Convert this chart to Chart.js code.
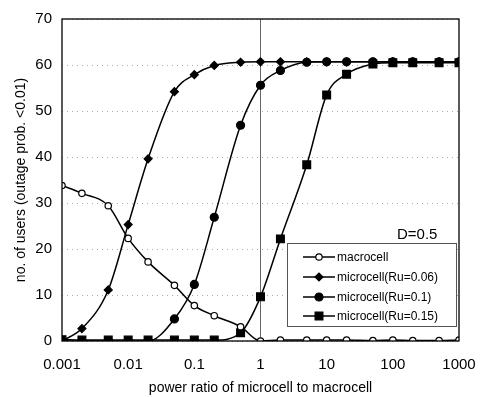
<!DOCTYPE html>
<html>
<head>
<meta charset="utf-8">
<script src="https://cdn.jsdelivr.net/npm/chart.js@4"></script>
<style>
  html, body { margin: 0; padding: 0; background: #fff; }
  #wrap { width: 484px; height: 397px; }
</style>
</head>
<body>
<div id="wrap"><canvas id="myChart" width="484" height="397"></canvas></div>
<script>
// 横軸 (power ratio)
const ratios = [0.001, 0.002, 0.005, 0.01, 0.02, 0.05, 0.1, 0.2, 0.5, 1, 2, 5, 10, 20, 50, 100, 200, 500, 1000];
const xTicks = [0.001, 0.01, 0.1, 1, 10, 100, 1000];
const xTickLabels = ['0.001', '0.01', '0.1', '1', '10', '100', '1000'];

// 各系列
const seriesNames = ['macrocell', 'microcell(Ru=0.06)', 'microcell(Ru=0.1)', 'microcell(Ru=0.15)'];
const macro   = [33.8, 32.1, 29.4, 22.3, 17.2, 12.1, 7.7, 5.5, 3.1, 0, 0.2, 0.2, 0.2, 0.2, 0.1, 0.2, 0.1, 0.1, 0.2];
const ru006   = [0, 2.7, 11.1, 25.3, 39.6, 54.2, 57.9, 59.9, 60.6, 60.7, 60.7, 60.7, 60.7, 60.7, 60.7, 60.7, 60.7, 60.7, 60.7];
const ru01    = [0, 0, 0, 0, 0, 4.8, 12.3, 26.9, 46.9, 55.6, 58.8, 60.6, 60.7, 60.7, 60.7, 60.7, 60.7, 60.7, 60.7];
const ru015   = [0.3, 0.2, 0.2, 0.2, 0.2, 0.2, 0.2, 0.2, 1.8, 9.6, 22.2, 38.3, 53.5, 58.0, 60.2, 60.5, 60.5, 60.5, 60.5];

const yTicks = [0, 10, 20, 30, 40, 50, 60, 70];

const toPts = arr => ratios.map((r, i) => ({x: r, y: arr[i]}));

const styles = [
    {pointStyle: 'circle', radius: 3.2, bg: '#fff'},
    {pointStyle: 'rectRot', radius: 4, bg: '#000'},
    {pointStyle: 'circle', radius: 4, bg: '#000'},
    {pointStyle: 'rect', radius: 5.5, bg: '#000'}
];
const allData = [macro, ru006, ru01, ru015];

const datasets = allData.map((d, i) => ({
    label: seriesNames[i],
    data: toPts(d),
    borderColor: '#000',
    borderWidth: 1.5,
    backgroundColor: styles[i].bg,
    pointStyle: styles[i].pointStyle,
    pointRadius: styles[i].radius,
    pointBorderColor: '#000',
    pointBorderWidth: 1.2,
    pointBackgroundColor: styles[i].bg,
    cubicInterpolationMode: 'monotone',
    fill: false
}));

// 枠・凡例・D=0.5 を描く
const extras = {
    id: 'extras',
    afterDraw(chart) {
        const ctx = chart.ctx;
        const a = chart.chartArea;
        ctx.save();
        ctx.strokeStyle = '#000';
        ctx.lineWidth = 1.3;
        ctx.strokeRect(a.left, a.top, a.right - a.left, a.bottom - a.top);

        // D=0.5
        ctx.fillStyle = '#000';
        ctx.font = '15px "Liberation Sans", Arial, sans-serif';
        ctx.textBaseline = 'middle';
        ctx.textAlign = 'left';
        ctx.fillText('D=0.5', 397, 235);

        // legend box
        const bx = 287, by = 243, bw = 169, bh = 83;
        ctx.fillStyle = '#fff';
        ctx.fillRect(bx, by, bw, bh);
        ctx.strokeStyle = '#555';
        ctx.lineWidth = 1;
        ctx.strokeRect(bx + 0.5, by + 0.5, bw, bh);

        const rows = [257, 277, 297, 316];
        ctx.font = '12px "Liberation Sans", Arial, sans-serif';
        chart.data.datasets.forEach((ds, i) => {
            const y = rows[i];
            ctx.strokeStyle = '#000';
            ctx.lineWidth = 1.5;
            ctx.beginPath();
            ctx.moveTo(303, y);
            ctx.lineTo(335, y);
            ctx.stroke();
            ctx.fillStyle = ds.pointBackgroundColor;
            ctx.lineWidth = 1.2;
            Chart.helpers.drawPoint(ctx, {pointStyle: ds.pointStyle, radius: ds.pointRadius, rotation: 0, borderWidth: 1.2}, 319, y);
            ctx.fillStyle = '#000';
            ctx.fillText(ds.label, 337, y + 1);
        });
        ctx.restore();
    }
};

window.onload = function() {
    const ctx = document.getElementById('myChart').getContext('2d');
    new Chart(ctx, {
        type: 'line',
        data: {datasets: datasets},
        options: {
            responsive: false,
            animation: false,
            layout: {padding: {left: 4, right: 25, top: 13, bottom: 0}},
            plugins: {
                legend: {display: false},
                tooltip: {enabled: false}
            },
            scales: {
                x: {
                    type: 'logarithmic',
                    min: 0.001,
                    max: 1000,
                    afterBuildTicks: s => { s.ticks = xTicks.map(v => ({value: v})); },
                    afterFit: s => { s.height = 56; s.paddingLeft = 0; s.paddingRight = 0; },
                    ticks: {
                        color: '#000',
                        font: {family: '"Liberation Sans", Arial, sans-serif', size: 15},
                        padding: 15,
                        maxRotation: 0,
                        autoSkip: false,
                        callback: (v) => {
                            const i = xTicks.findIndex(t => Math.abs(t - v) / t < 1e-6);
                            return i >= 0 ? xTickLabels[i] : '';
                        }
                    },
                    grid: {
                        drawTicks: false,
                        color: c => (c.tick && Math.abs(c.tick.value - 1) < 1e-9) ? '#666' : 'rgba(0,0,0,0)',
                        lineWidth: 1
                    },
                    border: {display: false},
                    title: {
                        display: true,
                        text: 'power ratio of microcell to macrocell',
                        color: '#000',
                        font: {family: '"Liberation Sans", Arial, sans-serif', size: 14},
                        padding: {top: 2, bottom: 0}
                    }
                },
                y: {
                    min: 0,
                    max: 70,
                    afterBuildTicks: s => { s.ticks = yTicks.map(v => ({value: v})); },
                    afterFit: s => { s.width = 58; },
                    ticks: {
                        color: '#000',
                        font: {family: '"Liberation Sans", Arial, sans-serif', size: 15},
                        padding: 10
                    },
                    grid: {
                        drawTicks: false,
                        color: '#aaa',
                        lineWidth: 1
                    },
                    border: {display: false, dash: [1, 4]},
                    title: {
                        display: true,
                        text: 'no. of users (outage prob. <0.01)',
                        color: '#000',
                        font: {family: '"Liberation Sans", Arial, sans-serif', size: 14},
                        padding: {top: 9, bottom: 4}
                    }
                }
            }
        },
        plugins: [extras]
    });
};
</script>
</body>
</html>
